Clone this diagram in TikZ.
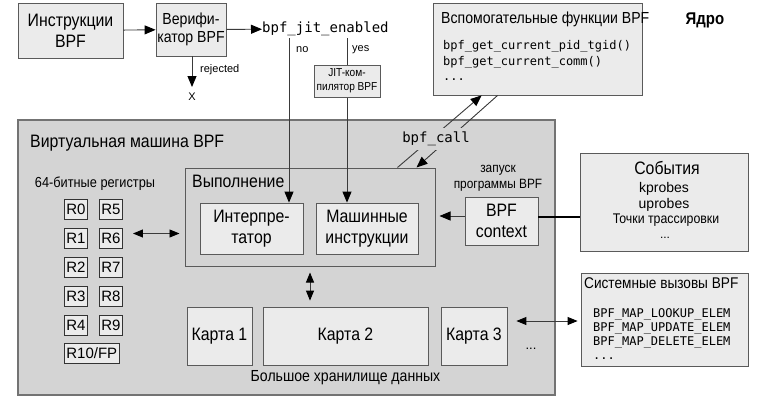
\documentclass[tikz,border=0pt]{standalone}
\usepackage{fontspec}
\setmainfont{Liberation Sans}
\setmonofont{DejaVu Sans Mono}
\newfontfamily\cn[FakeStretch=0.88]{Liberation Sans}
\usetikzlibrary{arrows.meta,calc}
\definecolor{boxfill}{HTML}{EBEBEB}
\definecolor{vmfill}{HTML}{D4D4D4}
\definecolor{edge}{HTML}{5A5A5A}
\definecolor{ln}{HTML}{3A3A3A}
\tikzset{
  box/.style={draw=edge, fill=boxfill, line width=0.8pt, inner sep=0pt, align=center},
  lbl/.style={inner sep=0pt, align=center},
  fbig/.style={font=\cn\fontsize{18}{21}\selectfont},
  arr/.style={draw=ln, line width=0.9pt, -{Triangle[length=11pt,width=9pt,color=black]}},
  arrtwo/.style={draw=ln, line width=0.9pt, {Triangle[length=10pt,width=8pt,color=black]}-{Triangle[length=10pt,width=8pt,color=black]}},
  reg/.style={draw=black!80, fill=boxfill, line width=0.8pt, font=\fontsize{15}{17}\selectfont, minimum height=20pt, inner xsep=2pt, inner ysep=0pt, anchor=west},
  code/.style={inner sep=0pt, anchor=base west, font=\ttfamily\fontsize{12}{14}\selectfont}
}
\begin{document}
\begin{tikzpicture}[x=1pt,y=-1pt]
\path[use as bounding box, fill=white] (0,0) rectangle (761,402);

% ---- top row
\node[box,minimum width=105pt,minimum height=55pt,font=\cn\fontsize{18}{21}\selectfont] (ins) at (70.5,30.5) {Инструкции\\BPF};
\node[box,minimum width=70pt,minimum height=53pt,font=\cn\fontsize{16}{18}\selectfont] (ver) at (191,29.5) {Верифи-\\катор BPF};
\node[lbl,anchor=west,font=\ttfamily\fontsize{14}{16}\selectfont] (jit) at (262,29) {bpf\_jit\_enabled};
\draw[arr] (ins) -- (ver);
\draw[arr] (ver) -- (jit);
\node[lbl,font=\fontsize{11}{13}\selectfont] (x) at (192,97) {X};
\draw[arr,shorten >=6pt] (ver.south -| x.north) -- (x.north);
\node[lbl,anchor=west,font=\fontsize{11}{13}\selectfont] (rej) at (200,70) {rejected};

% ---- helper functions
\node[box,minimum width=209pt,minimum height=92pt] (help) at (537.5,49) {};
\node[lbl,anchor=west,font=\cn\fontsize{16}{18}\selectfont] (helpt) at (441,19) {Вспомогательные функции BPF};
\node[code] (h1) at (443,49) {bpf\_get\_current\_pid\_tgid()};
\node[code] (h2) at (443,65) {bpf\_get\_current\_comm()};
\node[code] (h3) at (443,80) {...};

\node[lbl,font=\cn\bfseries\fontsize{17}{20}\selectfont] (kern) at (705,20) {Ядро};

% ---- virtual machine
\node[draw=edge!85, fill=vmfill, line width=1.3pt, minimum width=537pt, minimum height=275pt, inner sep=0pt] (vm) at (286.5,257.5) {};
\node[lbl,anchor=west,fbig] (vmt) at (30,143) {Виртуальная машина BPF};

\node[draw=edge, fill=vmfill, line width=1pt, minimum width=250pt, minimum height=98pt, inner sep=0pt] (exec) at (310,217) {};
\node[lbl,anchor=west,fbig] (exect) at (192,181) {Выполнение};
\node[box,fbig,minimum width=103pt,minimum height=51pt] (interp) at (251.5,228.5) {Интерпре-\\татор};
\node[box,fbig,minimum width=102pt,minimum height=51pt] (mach) at (367,228.5) {Машинные\\инструкции};

% no / yes
\coordinate (nos) at (289,38);
\coordinate (yess) at (347,38);
\draw[arr] (nos) -- (nos |- interp.north);
\draw[arr] (yess) -- (yess |- mach.north);
\node[lbl,anchor=west,font=\fontsize{11}{13}\selectfont] (no) at (296,50) {no};
\node[lbl,anchor=west,font=\fontsize{11}{13}\selectfont] (yes) at (352,50) {yes};
\node[box,minimum width=66pt,minimum height=32pt,font=\cn\fontsize{11.5}{14}\selectfont] (jitc) at (347,81) {JIT-ком-\\пилятор BPF};

% bpf_call
\coordinate (c1a) at ($(exec.north west)+(213,0)$);
\coordinate (c1b) at ($(help.south west)+(49,0)$);
\coordinate (c2a) at ($(help.south west)+(65,0)$);
\coordinate (c2b) at ($(exec.north west)+(232,0)$);
\draw[arr] (c1a) -- (c1b);
\draw[arr] (c2a) -- (c2b);
\node[fill=vmfill, inner xsep=2pt, inner ysep=4pt, font=\ttfamily\fontsize{14}{16}\selectfont] (call) at (436,139) {bpf\_call};

% context
\node[box,fbig,minimum width=73pt,minimum height=48pt] (ctx) at (501.5,221) {BPF\\context};
\draw[arr,shorten >=4pt] ([yshift=5pt]ctx.west) -- ([yshift=5pt]ctx.west -| exec.east);
\node[lbl,font=\cn\fontsize{13.5}{16}\selectfont] (zap) at (498,178) {запуск\\программы BPF};

% events
\node[box,minimum width=168pt,minimum height=98pt] (ev) at (664,202) {};
\node[lbl,fbig] (evt) at (667,168) {События};
\node[lbl,font=\fontsize{14}{16}\selectfont] (kp) at (664,189) {kprobes};
\node[lbl,font=\fontsize{14}{16}\selectfont] (up) at (664,205) {uprobes};
\node[lbl,font=\cn\fontsize{14}{16}\selectfont] (tp) at (666,220) {Точки трассировки};
\node[lbl,anchor=base,font=\fontsize{12}{14}\selectfont] (evd) at (665,238) {...};
\draw[line width=2.6pt,black] ([yshift=4pt]ctx.east) -- ([yshift=4pt]ctx.east -| ev.west);

% registers
\node[lbl,font=\cn\fontsize{14.5}{16}\selectfont] (rlab) at (95,184) {64-битные регистры};
\node[reg] (R0) at (64,209.5) {R0};
\node[reg] (R5) at (99,209.5) {R5};
\node[reg] (R1) at (64,238.5) {R1};
\node[reg] (R6) at (99,238.5) {R6};
\node[reg] (R2) at (64,267.5) {R2};
\node[reg] (R7) at (99,267.5) {R7};
\node[reg] (R3) at (64,296.5) {R3};
\node[reg] (R8) at (99,296.5) {R8};
\node[reg] (R4) at (64,325.5) {R4};
\node[reg] (R9) at (99,325.5) {R9};
\node[reg] (R10) at (64,353) {R10/FP};
\draw[arrtwo,shorten >=5pt] ([xshift=10pt,yshift=5pt]R6.east) -- ([yshift=5pt]R6.east -| exec.west);

% maps
\node[box,fbig,minimum width=65pt,minimum height=58pt] (map1) at (219.5,336) {Карта 1};
\node[box,fbig,minimum width=165pt,minimum height=58pt] (map2) at (345.5,336) {Карта 2};
\node[box,fbig,minimum width=66pt,minimum height=58pt] (map3) at (474,336) {Карта 3};
\node[lbl,anchor=base,font=\fontsize{13}{15}\selectfont] (mdots) at (531,349) {...};
\node[lbl,font=\cn\fontsize{16}{18}\selectfont] (store) at (345.5,378) {Большое хранилище данных};
\draw[arrtwo] ([yshift=-6pt]exec.south) -- ([yshift=6pt]exec.south |- map2.north);

% syscalls
\node[box,minimum width=167pt,minimum height=93pt] (sys) at (664.5,319.5) {};
\node[lbl,anchor=west,font=\cn\fontsize{15.5}{18}\selectfont] (syst) at (584,283) {Системные вызовы BPF};
\node[code] (s1) at (593,317) {BPF\_MAP\_LOOKUP\_ELEM};
\node[code] (s2) at (593,331) {BPF\_MAP\_UPDATE\_ELEM};
\node[code] (s3) at (593,345) {BPF\_MAP\_DELETE\_ELEM};
\node[code] (s4) at (593,359) {...};
\draw[arrtwo,shorten >=3pt] ([xshift=9pt,yshift=15pt]map3.east) -- ([yshift=15pt]map3.east -| sys.west);
\end{tikzpicture}
\end{document}
